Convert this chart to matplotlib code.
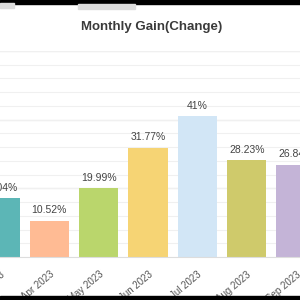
import matplotlib.pyplot as plt
from matplotlib.patches import Rectangle

# Données
mois = ["Mar 2023", "Apr 2023", "May 2023", "Jun 2023", "Jul 2023", "Aug 2023", "Sep 2023"]
gains = [17.04, 10.52, 19.99, 31.77, 41, 28.23, 26.84]
etiquettes = ["17.04%", "10.52%", "19.99%", "31.77%", "41%", "28.23%", "26.84%"]
couleurs = ["#5cb6b6", "#ffbb94", "#bad66c", "#f6d474", "#d2e6f6", "#cfca6b", "#c4b4d7"]

plt.rcParams['font.family'] = ['Liberation Sans', 'DejaVu Sans']

fig = plt.figure(figsize=(3, 3), dpi=100)
ax = fig.add_axes([0, 43 / 300, 1, 206 / 300])

x = list(range(len(mois)))
barres = ax.bar(x, gains, width=0.8, color=couleurs, zorder=2)

for b, txt in zip(barres, etiquettes):
    ax.annotate(txt, (b.get_x() + b.get_width() / 2, b.get_height()),
                xytext=(0, 4), textcoords="offset points",
                ha="center", va="bottom", fontsize=7.5, color="#444444")

# Axes
ax.set_xlim(0.12, 6.08)
ax.set_ylim(0, 60)
ax.set_xticks(x)
ax.set_xticklabels(mois, rotation=40, ha="right", rotation_mode="anchor",
                   fontsize=7, color="#555555")
ax.tick_params(axis="x", length=0, pad=9)
ax.set_yticks(range(0, 61, 4))
ax.set_yticklabels([])
ax.tick_params(axis="y", length=0)
ax.grid(axis="y", color="#f0f0f0", linewidth=0.8, zorder=0)
for v in (20, 40, 60):
    ax.axhline(v, color="#e2e2e2", linewidth=0.9, zorder=1)
for s in ["top", "right", "left"]:
    ax.spines[s].set_visible(False)
ax.spines["bottom"].set_color("#dddddd")

# Titre
fig.text(0.507, 1 - 27 / 300, "Monthly Gain(Change)", ha="center", va="center",
         fontsize=9.5, fontweight="bold", color="#3a3a3a")

# Bandes de la capture d'écran
fig.patches.append(Rectangle((0, 1 - 3.5 / 300), 1, 3.5 / 300, transform=fig.transFigure,
                             color="black", zorder=10))
fig.patches.append(Rectangle((0, 1 - 8 / 300), 14 / 300, 4.5 / 300, transform=fig.transFigure,
                             color="#dddddd", zorder=10))
fig.patches.append(Rectangle((78 / 300, 1 - 9 / 300), 57 / 300, 5.5 / 300, transform=fig.transFigure,
                             color="#dddddd", zorder=10))
fig.patches.append(Rectangle((0, 0), 1, 4 / 300, transform=fig.transFigure,
                             color="black", zorder=10))

fig.savefig("out.png", dpi=100)
